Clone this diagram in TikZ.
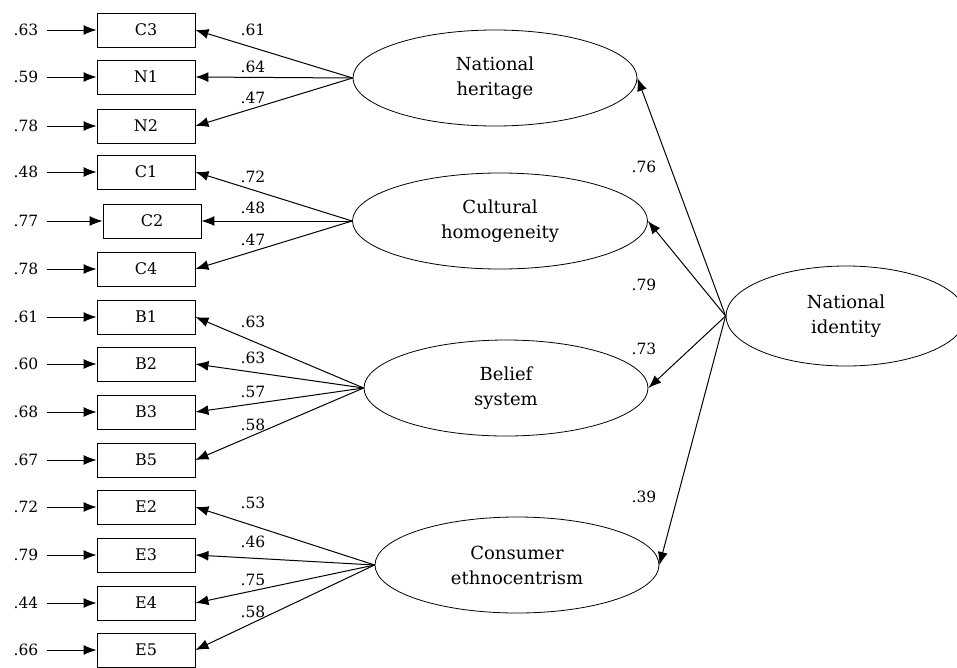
\documentclass[tikz,border=0pt]{standalone}
\usepackage{fontspec}
\setmainfont{DejaVu Serif}
\usetikzlibrary{arrows.meta,shapes.geometric}

\tikzset{
	item/.style={draw,line width=0.9pt,minimum width=98pt,minimum height=34pt,inner sep=0pt,font=\fontsize{16}{18}\selectfont},
	factor/.style={draw,ellipse,line width=0.8pt,minimum width=284pt,minimum height=96pt,inner sep=0pt,align=center,font=\fontsize{18}{25}\selectfont},
	coef/.style={inner sep=1pt,font=\fontsize{15.5}{18}\selectfont}
}

\begin{document}
\begin{tikzpicture}[x=1pt,y=-1pt,>={Latex[length=13pt,width=10pt]},line width=1pt]
	\useasboundingbox (0,0) rectangle (957,667);
	
	% Latent factors
	\node[factor] (NH) at (495,78) {National\\heritage};
	\node[factor,minimum width=295pt] (CH) at (500,221) {Cultural\\homogeneity};
	\node[factor] (BS) at (506,388) {Belief\\system};
	\node[factor] (CE) at (517,565) {Consumer\\ethnocentrism};
	\node[factor,minimum width=240pt,minimum height=100pt] (NI) at (846,316) {National\\identity};
	
	% Indicators and error terms
	\foreach \n/\x/\y/\e in {C3/146/30/.63, N1/146/77/.59, N2/146/126/.78, C1/146/172/.48, C2/152/221/.77, C4/146/269/.78, B1/146/317/.61, B2/146/364/.60, B3/146/412/.68, B5/146/460/.67, E2/146/507/.72, E3/146/555/.79, E4/146/603/.44, E5/146/650/.66}{
		\node[item] (\n) at (\x,\y) {\n};
		\node[coef] (e\n) at (26,\y) {\e};
		\draw[->,shorten <=7pt] (e\n) -- (\n);
	}
	
	% Loadings
	\foreach \f/\n/\v/\ly in {NH/C3/.61/30, NH/N1/.64/67, NH/N2/.47/98, CH/C1/.72/177, CH/C2/.48/208, CH/C4/.47/240, BS/B1/.63/322, BS/B2/.63/358, BS/B3/.57/392, BS/B5/.58/425, CE/E2/.53/503, CE/E3/.46/542, CE/E4/.75/580, CE/E5/.58/612}{
		\draw[->] (\f.west) -- (\n.east);
		\node[coef] (l\n) at (253,\ly) {\v};
	}
	
	% Second order factor
	\foreach \f/\v/\ly in {NH/.76/167, CH/.79/285, BS/.73/349, CE/.39/497}{
		\draw[->] (NI.west) -- (\f.east);
		\node[coef] (l\f) at (644,\ly) {\v};
	}
	
\end{tikzpicture}
\end{document}
